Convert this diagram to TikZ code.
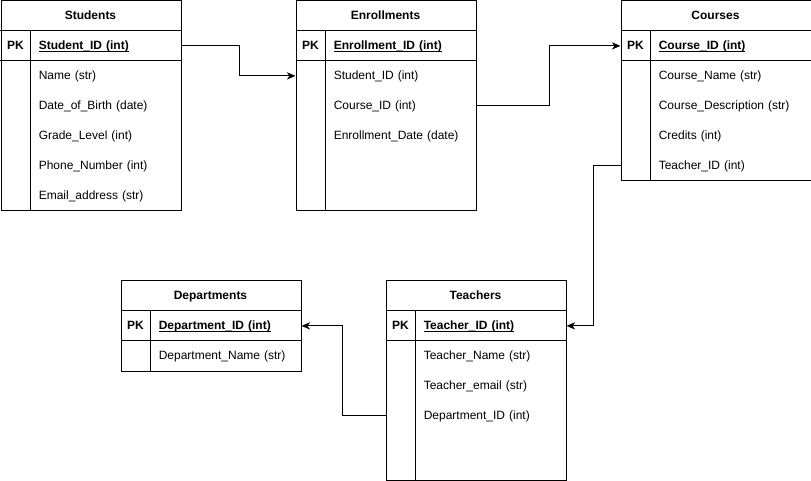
\documentclass[tikz,border=0pt]{standalone}
\usepackage{fontspec}
\setmainfont{Liberation Sans}
\newcommand\keyul[1]{\underline{\smash{#1}}\vphantom{#1}}
\usetikzlibrary{arrows.meta,calc}
\begin{document}
\begin{tikzpicture}[x=0.75pt,y=-0.75pt,
  font=\fontsize{9}{11}\selectfont,
  tbl/.style={draw, line width=0.75pt, anchor=north west, inner sep=0pt, minimum width=#1},
  sep/.style={draw, line width=0.75pt},
  hdr/.style={font=\fontsize{9}{11}\selectfont\bfseries, inner sep=0pt, text height=6.6pt, text depth=1.9pt, yshift=-0.3pt},
  pkl/.style={font=\fontsize{9}{11}\selectfont\bfseries, inner sep=0pt, text height=6.6pt, text depth=1.9pt, yshift=-0.3pt},
  fld/.style={anchor=west, inner xsep=6pt, inner ysep=0pt, text height=6.6pt, text depth=1.9pt, yshift=-0.3pt, text width=#1, align=left},
  key/.style={font=\fontsize{9}{11}\selectfont\bfseries},
  conn/.style={draw, line width=0.75pt, -{Stealth[length=6.5pt,width=5.5pt,inset=2pt]}}
]
\useasboundingbox (0,0) rectangle (811,481);

% ---------- Students ----------
\node[tbl=135pt, minimum height=157.5pt] (students) at (0.5,0.5) {};
\draw[sep] (0.5,30.5) -- (180.5,30.5);
\draw[sep] (0.5,60.5) -- (180.5,60.5);
\draw[sep] (30.5,30.5) -- (30.5,210.5);
\node[hdr] (s-t) at (90.5,15.5) {Students};
\node[pkl] (s-pkl) at (15.5,45.5) {PK};
\node[fld=100.5pt, key] (s-pk) at (30.5,45.5) {\keyul{Student\_ID (int)}};
\node[fld=100.5pt] (s-1) at (30.5,75.5) {Name (str)};
\node[fld=100.5pt] (s-2) at (30.5,105.5) {Date\_of\_Birth (date)};
\node[fld=100.5pt] (s-3) at (30.5,135.5) {Grade\_Level (int)};
\node[fld=100.5pt] (s-4) at (30.5,165.5) {Phone\_Number (int)};
\node[fld=100.5pt] (s-5) at (30.5,195.5) {Email\_address (str)};

% ---------- Enrollments ----------
\node[tbl=135pt, minimum height=157.5pt] (enroll) at (295.5,0.5) {};
\draw[sep] (295.5,30.5) -- (475.5,30.5);
\draw[sep] (295.5,60.5) -- (475.5,60.5);
\draw[sep] (325.5,30.5) -- (325.5,210.5);
\node[hdr] (e-t) at (385.5,15.5) {Enrollments};
\node[pkl] (e-pkl) at (310.5,45.5) {PK};
\node[fld=100.5pt, key] (e-pk) at (325.5,45.5) {\keyul{Enrollment\_ID (int)}};
\node[fld=100.5pt] (e-1) at (325.5,75.5) {Student\_ID (int)};
\node[fld=100.5pt] (e-2) at (325.5,105.5) {Course\_ID (int)};
\node[fld=100.5pt] (e-3) at (325.5,135.5) {Enrollment\_Date (date)};

% ---------- Courses ----------
\node[tbl=142.5pt, minimum height=135pt] (courses) at (620.5,0.5) {};
\draw[sep] (620.5,30.5) -- (810.5,30.5);
\draw[sep] (620.5,60.5) -- (810.5,60.5);
\draw[sep] (650.5,30.5) -- (650.5,180.5);
\node[hdr] (c-t) at (715.5,15.5) {Courses};
\node[pkl] (c-pkl) at (635.5,45.5) {PK};
\node[fld=108pt, key] (c-pk) at (650.5,45.5) {\keyul{Course\_ID (int)}};
\node[fld=108pt] (c-1) at (650.5,75.5) {Course\_Name (str)};
\node[fld=108pt] (c-2) at (650.5,105.5) {Course\_Description (str)};
\node[fld=108pt] (c-3) at (650.5,135.5) {Credits (int)};
\node[fld=108pt] (c-4) at (650.5,165.5) {Teacher\_ID (int)};

% ---------- Departments ----------
\node[tbl=135pt, minimum height=67.5pt] (depts) at (120.5,280.5) {};
\draw[sep] (120.5,310.5) -- (300.5,310.5);
\draw[sep] (120.5,340.5) -- (300.5,340.5);
\draw[sep] (150.5,310.5) -- (150.5,370.5);
\node[hdr] (d-t) at (210.5,295.5) {Departments};
\node[pkl] (d-pkl) at (135.5,325.5) {PK};
\node[fld=100.5pt, key] (d-pk) at (150.5,325.5) {\keyul{Department\_ID (int)}};
\node[fld=100.5pt] (d-1) at (150.5,355.5) {Department\_Name (str)};

% ---------- Teachers ----------
\node[tbl=135pt, minimum height=149.6pt] (teachers) at (385.5,280.5) {};
\draw[sep] (385.5,310.5) -- (565.5,310.5);
\draw[sep] (385.5,340.5) -- (565.5,340.5);
\draw[sep] (415.5,310.5) -- (415.5,479.9);
\node[hdr] (t-t) at (475.5,295.5) {Teachers};
\node[pkl] (t-pkl) at (400.5,325.5) {PK};
\node[fld=100.5pt, key] (t-pk) at (415.5,325.5) {\keyul{Teacher\_ID (int)}};
\node[fld=100.5pt] (t-1) at (415.5,355.5) {Teacher\_Name (str)};
\node[fld=100.5pt] (t-2) at (415.5,385.5) {Teacher\_email (str)};
\node[fld=100.5pt] (t-3) at (415.5,415.5) {Department\_ID (int)};

% ---------- Connectors ----------
\draw[conn] (s-pk.center -| students.east) -- ++(58,0) |- (e-1.center -| enroll.west);
\draw[conn] (e-2.center -| enroll.east) -- ++(73,0) |- (c-pk.center -| courses.west);
\draw[conn] (c-4.center -| courses.west) -- ++(-27,0) |- (t-pk.center -| teachers.east);
\draw[conn] (t-3.center -| teachers.west) -- ++(-43,0) |- (d-pk.center -| depts.east);
\end{tikzpicture}
\end{document}
